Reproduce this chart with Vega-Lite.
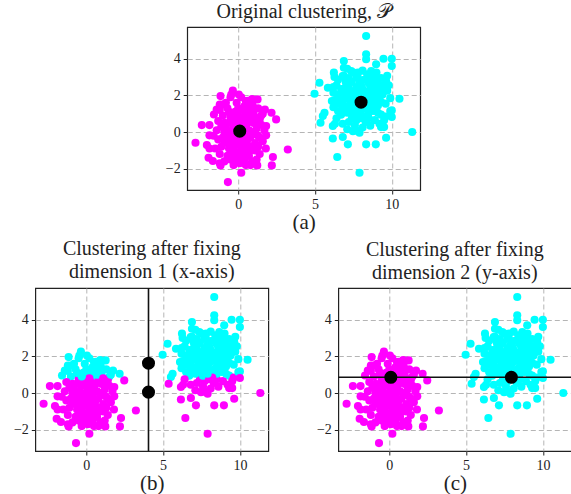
{
  "$schema": "https://vega.github.io/schema/vega-lite/v6.json",
  "padding": {"left": 12, "top": 1, "right": 2, "bottom": 0},
  "config": {
    "font": "Liberation Serif",
    "view": {"stroke": "#222", "strokeWidth": 1.2},
    "title": {"font": "Liberation Serif", "fontSize": 20, "fontWeight": "normal", "color": "#222", "offset": 5, "lineHeight": 23},
    "axis": {"labelFont": "Liberation Serif", "labelFontSize": 14, "labelColor": "#222", "titleFont": "Liberation Serif", "titleFontSize": 21, "titleFontWeight": "normal", "titleColor": "#222", "titlePadding": 0, "domain": false, "tickColor": "#222", "tickSize": 4, "gridColor": "#b5b5b5", "gridDash": [5, 3], "gridWidth": 1, "labelPadding": 3}
  },
  "datasets": {
    "pts": [
      {"x":0.1,"y":0.2},{"x":-0.5,"y":0.8},{"x":0.6,"y":-0.4},{"x":-0.9,"y":-0.6},{"x":1.0,"y":0.5},{"x":0.3,"y":1.2},{"x":-0.2,"y":-1.1},{"x":0.8,"y":-1.0},{"x":-1.1,"y":0.3},{"x":0.5,"y":0.9},
      {"x":-0.4,"y":-0.3},{"x":1.3,"y":-0.2},{"x":0.0,"y":-0.7},{"x":-0.7,"y":1.3},{"x":0.9,"y":1.4},{"x":-1.2,"y":-1.2},{"x":0.4,"y":-1.5},{"x":1.5,"y":0.9},{"x":-0.3,"y":0.4},{"x":0.7,"y":0.1},
      {"x":-0.8,"y":-0.1},{"x":0.2,"y":-0.2},{"x":1.1,"y":-0.6},{"x":-0.6,"y":-0.9},{"x":0.3,"y":0.6},{"x":-0.1,"y":1.6},{"x":1.4,"y":-1.2},{"x":-1.0,"y":0.9},{"x":0.6,"y":1.7},{"x":-0.5,"y":-1.5},
      {"x":0.9,"y":-1.6},{"x":0.0,"y":0.9},{"x":-1.3,"y":-0.4},{"x":1.2,"y":0.2},{"x":0.4,"y":-0.9},{"x":-0.2,"y":-0.5},{"x":0.8,"y":0.7},{"x":-0.9,"y":0.5},{"x":0.1,"y":-1.3},{"x":1.6,"y":-0.5},
      {"x":-0.6,"y":1.1},{"x":0.5,"y":0.3},{"x":-1.4,"y":0.1},{"x":1.0,"y":1.1},{"x":0.2,"y":1.9},{"x":-0.3,"y":-1.8},{"x":0.7,"y":-1.3},{"x":-0.8,"y":1.6},{"x":1.3,"y":1.3},{"x":-1.1,"y":-0.8},
      {"x":0.0,"y":0.0},{"x":0.6,"y":-0.7},{"x":-0.4,"y":0.1},{"x":1.1,"y":-1.0},{"x":0.3,"y":-0.4},{"x":-0.7,"y":-1.3},{"x":0.9,"y":0.0},{"x":-0.1,"y":0.6},{"x":1.5,"y":0.4},{"x":-1.2,"y":1.2},
      {"x":0.4,"y":1.4},{"x":-0.5,"y":-0.6},{"x":0.8,"y":-0.3},{"x":-0.2,"y":1.1},{"x":1.2,"y":-1.5},{"x":-0.9,"y":-1.6},{"x":0.5,"y":-1.8},{"x":0.1,"y":0.4},{"x":-1.0,"y":-0.3},{"x":1.4,"y":0.7},
      {"x":0.7,"y":1.0},{"x":-0.3,"y":-0.9},{"x":0.2,"y":-1.0},{"x":-0.6,"y":0.5},{"x":1.0,"y":-0.1},{"x":-1.5,"y":-0.9},{"x":0.3,"y":0.1},{"x":-0.1,"y":-1.5},{"x":0.9,"y":1.8},{"x":-0.8,"y":0.2},
      {"x":1.7,"y":0.1},{"x":0.0,"y":1.3},{"x":-0.4,"y":-1.2},{"x":0.6,"y":0.5},{"x":1.1,"y":0.8},{"x":-1.3,"y":0.6},{"x":0.4,"y":-0.1},{"x":-0.7,"y":-0.4},{"x":1.3,"y":-0.8},{"x":0.2,"y":0.8},
      {"x":-0.2,"y":-0.1},{"x":0.8,"y":-1.8},{"x":-1.0,"y":1.5},{"x":0.5,"y":-1.2},{"x":1.6,"y":1.0},{"x":-0.5,"y":1.9},{"x":0.1,"y":-1.7},{"x":-1.2,"y":-1.7},{"x":0.7,"y":1.5},{"x":1.2,"y":0.5},
      {"x":-0.9,"y":0.0},{"x":0.3,"y":-0.6},{"x":1.8,"y":-0.9},{"x":-0.3,"y":0.9},{"x":0.9,"y":-0.8},{"x":-1.6,"y":-0.2},{"x":0.0,"y":-0.4},{"x":0.6,"y":1.2},{"x":1.4,"y":-0.3},{"x":-0.6,"y":-0.1},
      {"x":-2.78,"y":-0.58},{"x":-2.37,"y":0.38},{"x":-1.87,"y":0.38},{"x":-2.04,"y":-0.71},{"x":-1.87,"y":-0.9},{"x":-1.93,"y":-1.4},{"x":-1.65,"y":-1.58},{"x":-1.15,"y":-1.82},{"x":-0.67,"y":-2.73},{"x":0.2,"y":-2.22},
      {"x":1.24,"y":-1.82},{"x":2.19,"y":-1.82},{"x":2.26,"y":-1.36},{"x":3.23,"y":-0.95},{"x":2.47,"y":0.69},{"x":2.17,"y":1.05},{"x":1.74,"y":1.23},{"x":1.82,"y":0.33},{"x":1.82,"y":-0.18},{"x":-1.58,"y":0.96},
      {"x":-1.15,"y":1.96},{"x":-0.35,"y":2.27},{"x":-0.45,"y":2.05},{"x":0.04,"y":2.05},{"x":0.5,"y":1.69},{"x":0.93,"y":1.51},{"x":1.26,"y":1.78},{"x":-1.87,"y":-0.18},{"x":-1.2,"y":1.5},{"x":-1.4,"y":1.23},
      {"x":8.2,"y":1.75},{"x":8.8,"y":1.15},{"x":7.6,"y":2.25},{"x":7.4,"y":0.75},{"x":8.5,"y":2.65},{"x":9.2,"y":1.95},{"x":6.9,"y":1.45},{"x":7.0,"y":2.45},{"x":8.3,"y":0.55},{"x":8.9,"y":2.15},
      {"x":7.7,"y":1.25},{"x":7.8,"y":2.95},{"x":7.3,"y":1.65},{"x":9.3,"y":0.95},{"x":9.4,"y":2.55},{"x":6.8,"y":0.45},{"x":6.5,"y":2.05},{"x":8.9,"y":3.15},{"x":8.4,"y":1.35},{"x":8.1,"y":2.35},
      {"x":7.9,"y":0.85},{"x":7.8,"y":1.85},{"x":7.4,"y":2.75},{"x":7.1,"y":1.05},{"x":8.6,"y":1.95},{"x":9.6,"y":1.55},{"x":6.8,"y":3.05},{"x":8.9,"y":0.65},{"x":9.7,"y":2.25},{"x":6.5,"y":1.15},
      {"x":6.4,"y":2.55},{"x":8.9,"y":1.65},{"x":7.6,"y":0.35},{"x":8.2,"y":2.85},{"x":7.1,"y":2.05},{"x":7.5,"y":1.45},{"x":8.7,"y":2.45},{"x":8.5,"y":0.75},{"x":6.7,"y":1.75},{"x":7.5,"y":3.25},
      {"x":9.1,"y":1.05},{"x":8.3,"y":2.15},{"x":8.1,"y":0.25},{"x":9.1,"y":2.65},{"x":9.9,"y":1.85},{"x":6.2,"y":1.35},{"x":6.7,"y":2.35},{"x":9.6,"y":0.85},{"x":9.3,"y":2.95},{"x":7.2,"y":0.55},
      {"x":8.0,"y":1.65},{"x":7.3,"y":2.25},{"x":8.1,"y":1.25},{"x":7.0,"y":2.75},{"x":7.6,"y":1.95},{"x":6.7,"y":0.95},{"x":8.0,"y":2.55},{"x":8.6,"y":1.55},{"x":8.4,"y":3.15},{"x":9.2,"y":0.45},
      {"x":9.4,"y":2.05},{"x":7.4,"y":1.15},{"x":7.7,"y":2.45},{"x":9.1,"y":1.45},{"x":6.5,"y":2.85},{"x":6.4,"y":0.75},{"x":6.2,"y":2.15},{"x":8.4,"y":1.75},{"x":7.7,"y":0.65},{"x":8.7,"y":3.05},
      {"x":9.0,"y":2.35},{"x":7.1,"y":1.35},{"x":7.0,"y":1.85},{"x":8.5,"y":1.05},{"x":7.9,"y":2.65},{"x":7.1,"y":0.15},{"x":8.1,"y":1.95},{"x":6.5,"y":1.55},{"x":9.8,"y":2.55},{"x":8.2,"y":0.85},
      {"x":8.1,"y":3.35},{"x":9.3,"y":1.65},{"x":6.8,"y":1.25},{"x":8.5,"y":2.25},{"x":8.8,"y":2.75},{"x":8.6,"y":0.35},{"x":7.9,"y":2.05},{"x":7.6,"y":0.95},{"x":7.2,"y":2.95},{"x":8.8,"y":1.85},
      {"x":7.9,"y":1.45},{"x":6.2,"y":2.45},{"x":9.5,"y":0.65},{"x":6.8,"y":2.15},{"x":9.0,"y":3.25},{"x":9.9,"y":1.15},{"x":6.3,"y":1.75},{"x":6.3,"y":0.45},{"x":9.5,"y":2.35},{"x":8.5,"y":2.85},
      {"x":8.0,"y":0.75},{"x":7.4,"y":1.95},{"x":7.1,"y":3.45},{"x":8.9,"y":1.35},{"x":7.2,"y":2.55},{"x":7.8,"y":0.05},{"x":7.6,"y":1.65},{"x":9.2,"y":2.25},{"x":7.7,"y":3.05},{"x":7.9,"y":1.05},
      {"x":8.33,"y":5.24},{"x":8.33,"y":4.24},{"x":8.33,"y":3.97},{"x":6.88,"y":3.87},{"x":6.88,"y":3.51},{"x":7.36,"y":3.33},{"x":6.23,"y":3.24},{"x":6.27,"y":3.0},{"x":6.88,"y":3.07},{"x":7.8,"y":3.24},
      {"x":8.66,"y":3.33},{"x":8.98,"y":3.7},{"x":9.46,"y":4.0},{"x":10.0,"y":4.0},{"x":10.0,"y":3.6},{"x":9.7,"y":3.07},{"x":9.63,"y":2.78},{"x":8.98,"y":2.93},{"x":5.29,"y":2.69},{"x":5.84,"y":2.42},
      {"x":4.97,"y":2.09},{"x":6.1,"y":1.69},{"x":5.62,"y":1.05},{"x":5.51,"y":0.87},{"x":5.36,"y":0.51},{"x":6.16,"y":0.33},{"x":6.16,"y":-0.35},{"x":6.81,"y":-0.27},{"x":7.14,"y":-0.67},{"x":6.45,"y":-1.36},
      {"x":7.9,"y":-2.22},{"x":8.33,"y":-0.67},{"x":8.96,"y":-0.67},{"x":9.63,"y":-0.31},{"x":11.33,"y":0.0},{"x":10.5,"y":1.82},{"x":10.0,"y":1.18},{"x":10.0,"y":0.82},{"x":9.5,"y":0.27},{"x":9.3,"y":0.27},
      {"x":7.47,"y":0.05},{"x":7.9,"y":-0.04}
    ],
    "centA": [{"x": 0.1, "y": 0.05}, {"x": 8.0, "y": 1.63}],
    "centB": [{"x": 4.05, "y": 1.63}, {"x": 4.05, "y": 0.05}],
    "centC": [{"x": 0.1, "y": 0.86}, {"x": 7.95, "y": 0.86}],
    "lineB": [{"x": 4.05}],
    "lineC": [{"y": 0.86}]
  },
  "center": true,
  "spacing": 5,
  "vconcat": [
    {
      "width": 233, "height": 163,
      "title": {"text": "Original clustering, 𝒫"},
      "layer": [
        {
          "data": {"name": "pts"},
          "mark": {"type": "circle", "size": 66, "opacity": 1},
          "encoding": {
            "x": {"field": "x", "type": "quantitative", "scale": {"domain": [-3.32, 11.85], "nice": false, "zero": false}, "axis": {"values": [0, 5, 10], "title": "(a)"}},
            "y": {"field": "y", "type": "quantitative", "scale": {"domain": [-3.16, 5.73], "nice": false, "zero": false}, "axis": {"values": [-2, 0, 2, 4], "title": null}},
            "color": {"condition": {"test": "datum.x > 4", "value": "#00ffff"}, "value": "#ff00ff"}
          }
        },
        {
          "data": {"name": "centA"},
          "mark": {"type": "circle", "size": 170, "opacity": 1, "color": "black"},
          "encoding": {"x": {"field": "x", "type": "quantitative"}, "y": {"field": "y", "type": "quantitative"}}
        }
      ]
    },
    {
      "spacing": 46,
      "hconcat": [
        {
          "width": 233, "height": 163,
          "title": {"text": ["Clustering after fixing", "dimension 1 (x-axis)"]},
          "layer": [
            {
              "data": {"name": "pts"},
              "mark": {"type": "circle", "size": 66, "opacity": 1},
              "encoding": {
                "x": {"field": "x", "type": "quantitative", "scale": {"domain": [-3.32, 11.85], "nice": false, "zero": false}, "axis": {"values": [0, 5, 10], "title": "(b)"}},
                "y": {"field": "y", "type": "quantitative", "scale": {"domain": [-3.16, 5.73], "nice": false, "zero": false}, "axis": {"values": [-2, 0, 2, 4], "title": null}},
                "color": {"condition": {"test": "datum.y > 0.85", "value": "#00ffff"}, "value": "#ff00ff"}
              }
            },
            {
              "data": {"name": "lineB"},
              "mark": {"type": "rule", "color": "#111", "strokeWidth": 1.6},
              "encoding": {"x": {"field": "x", "type": "quantitative"}}
            },
            {
              "data": {"name": "centB"},
              "mark": {"type": "circle", "size": 170, "opacity": 1, "color": "black"},
              "encoding": {"x": {"field": "x", "type": "quantitative"}, "y": {"field": "y", "type": "quantitative"}}
            }
          ]
        },
        {
          "width": 233, "height": 163,
          "title": {"text": ["Clustering after fixing", "dimension 2 (y-axis)"]},
          "layer": [
            {
              "data": {"name": "pts"},
              "mark": {"type": "circle", "size": 66, "opacity": 1},
              "encoding": {
                "x": {"field": "x", "type": "quantitative", "scale": {"domain": [-3.32, 11.85], "nice": false, "zero": false}, "axis": {"values": [0, 5, 10], "title": "(c)"}},
                "y": {"field": "y", "type": "quantitative", "scale": {"domain": [-3.16, 5.73], "nice": false, "zero": false}, "axis": {"values": [-2, 0, 2, 4], "title": null}},
                "color": {"condition": {"test": "datum.x > 4", "value": "#00ffff"}, "value": "#ff00ff"}
              }
            },
            {
              "data": {"name": "lineC"},
              "mark": {"type": "rule", "color": "#111", "strokeWidth": 1.6},
              "encoding": {"y": {"field": "y", "type": "quantitative"}}
            },
            {
              "data": {"name": "centC"},
              "mark": {"type": "circle", "size": 170, "opacity": 1, "color": "black"},
              "encoding": {"x": {"field": "x", "type": "quantitative"}, "y": {"field": "y", "type": "quantitative"}}
            }
          ]
        }
      ]
    }
  ]
}
